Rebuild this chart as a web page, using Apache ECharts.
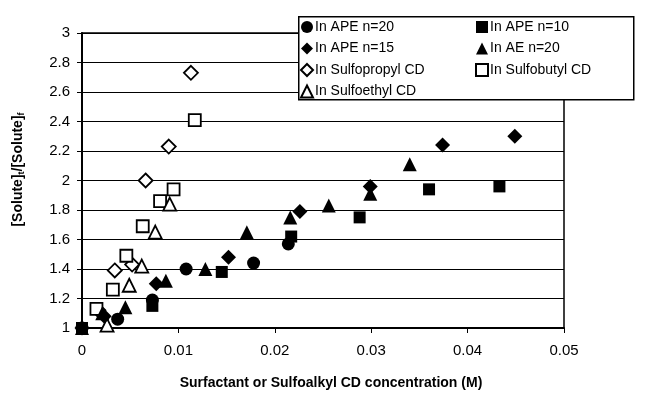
<!DOCTYPE html>
<html>
<head>
<meta charset="utf-8">
<script src="https://cdn.jsdelivr.net/npm/echarts@6/dist/echarts.min.js"></script>
<style>
html,body{margin:0;padding:0;background:#fff;}
#chart{width:647px;height:397px;}
</style>
</head>
<body>
<div id="chart"></div>
<script>
// Series names
var seriesNames = ['In APE n=20', 'In APE n=10', 'In APE n=15', 'In AE n=20', 'In Sulfopropyl CD', 'In Sulfobutyl CD', 'In Sulfoethyl CD'];

// Data: [concentration (M), [Solute]t/[Solute]f]
var apeN20 = [[0, 1], [0.0037, 1.06], [0.0073, 1.19], [0.0108, 1.40], [0.0178, 1.44], [0.0214, 1.57]];
var apeN10 = [[0, 1], [0.0073, 1.15], [0.0145, 1.38], [0.0217, 1.62], [0.0288, 1.75], [0.0360, 1.94], [0.0433, 1.96]];
var apeN15 = [[0, 1], [0.0023, 1.08], [0.0077, 1.30], [0.0152, 1.48], [0.0226, 1.79], [0.0299, 1.96], [0.0374, 2.24], [0.0449, 2.30]];
var aeN20 = [[0, 1], [0.0021, 1.10], [0.0045, 1.14], [0.0087, 1.32], [0.0128, 1.40], [0.0171, 1.65], [0.0216, 1.75], [0.0256, 1.83], [0.0299, 1.91], [0.0340, 2.11]];
var sulfopropyl = [[0.0017, 1.12], [0.0034, 1.39], [0.0052, 1.43], [0.0066, 2.00], [0.0090, 2.23], [0.0113, 2.73]];
var sulfobutyl = [[0.0015, 1.13], [0.0032, 1.26], [0.0046, 1.49], [0.0063, 1.69], [0.0081, 1.86], [0.0095, 1.94], [0.0117, 2.41]];
var sulfoethyl = [[0.0026, 1.02], [0.0049, 1.29], [0.0062, 1.42], [0.0076, 1.65], [0.0091, 1.84]];

// Axis ticks
var xTicks = [0, 0.01, 0.02, 0.03, 0.04, 0.05];
var yTicks = [1, 1.2, 1.4, 1.6, 1.8, 2, 2.2, 2.4, 2.6, 2.8, 3];

var FONT = 'Liberation Sans, Arial, sans-serif';
var filled = {color: '#000', borderColor: '#000', borderWidth: 0, opacity: 1};
var open = {color: '#fff', borderColor: '#000', borderWidth: 1.8, opacity: 1};

function mk(name, data, symbol, size, style, z) {
  return {
    name: name, type: 'scatter', data: data, symbol: symbol, symbolSize: size,
    itemStyle: style, z: z, emphasis: {disabled: true}, animation: false
  };
}

var chart = echarts.init(document.getElementById('chart'), null, {renderer: 'canvas'});
chart.setOption({
  backgroundColor: '#fff',
  animation: false,
  grid: {left: 82, right: 83, top: 33, bottom: 69, show: true, borderColor: '#000', borderWidth: 1.5, backgroundColor: 'transparent'},
  xAxis: {
    type: 'value', min: xTicks[0], max: xTicks[xTicks.length - 1], interval: 0.01,
    name: 'Surfactant or Sulfoalkyl CD concentration (M)', nameLocation: 'middle', nameGap: 48,
    nameTextStyle: {fontFamily: FONT, fontSize: 14, fontWeight: 'bold', color: '#000', padding: [0, 0, 0, 16]},
    axisLine: {lineStyle: {color: '#000', width: 2}},
    axisTick: {show: true, length: 5, lineStyle: {color: '#000', width: 1}},
    axisLabel: {fontFamily: FONT, fontSize: 15, color: '#000', margin: 15, formatter: function (v) { return String(+v.toFixed(2)); }},
    splitLine: {show: false}
  },
  yAxis: {
    type: 'value', min: yTicks[0], max: yTicks[yTicks.length - 1], interval: 0.2,
    name: '[Solute]{sub|t}/[Solute]{sub|f}', nameLocation: 'middle', nameGap: 56, nameRotate: 90,
    nameTextStyle: {fontFamily: FONT, fontSize: 14, fontWeight: 'bold', color: '#000', padding: [0, 0, 0, 22],
      rich: {sub: {fontFamily: FONT, fontSize: 9, fontWeight: 'bold', color: '#000', verticalAlign: 'bottom', padding: [6, 0, 0, 0]}}},
    axisLine: {lineStyle: {color: '#000', width: 2}},
    axisTick: {show: true, length: 5, lineStyle: {color: '#000', width: 1}},
    axisLabel: {fontFamily: FONT, fontSize: 15, color: '#000', margin: 12, formatter: function (v) { return String(+v.toFixed(1)); }},
    splitLine: {show: true, lineStyle: {color: '#000', width: 1}}
  },
  legend: [
    {
      data: [seriesNames[0], seriesNames[2], seriesNames[4], seriesNames[6]],
      orient: 'vertical', left: 295, top: 15, itemWidth: 12, itemHeight: 12, itemGap: 7.5,
      textStyle: {fontFamily: FONT, fontSize: 14, color: '#000', padding: [0, 0, 0, -3]},
      selectedMode: false, z: 6
    },
    {
      data: [seriesNames[1], seriesNames[3], seriesNames[5]],
      orient: 'vertical', left: 470, top: 15, itemWidth: 12, itemHeight: 12, itemGap: 7.5,
      textStyle: {fontFamily: FONT, fontSize: 14, color: '#000', padding: [0, 0, 0, -3]},
      selectedMode: false, z: 6
    }
  ],
  graphic: [{
    type: 'rect', left: 298, top: 16, shape: {width: 335, height: 83}, z: 5,
    style: {fill: '#fff', stroke: '#000', lineWidth: 1.5}
  }],
  series: [
    mk(seriesNames[0], apeN20, 'circle', 13, filled, 5),
    mk(seriesNames[1], apeN10, 'rect', 12, filled, 5),
    mk(seriesNames[2], apeN15, 'diamond', 15, filled, 5),
    mk(seriesNames[3], aeN20, 'triangle', 14, filled, 5),
    mk(seriesNames[4], sulfopropyl, 'diamond', 14, open, 4),
    mk(seriesNames[5], sulfobutyl, 'rect', 12, open, 4),
    mk(seriesNames[6], sulfoethyl, 'triangle', 13, open, 4)
  ]
});
</script>
</body>
</html>
